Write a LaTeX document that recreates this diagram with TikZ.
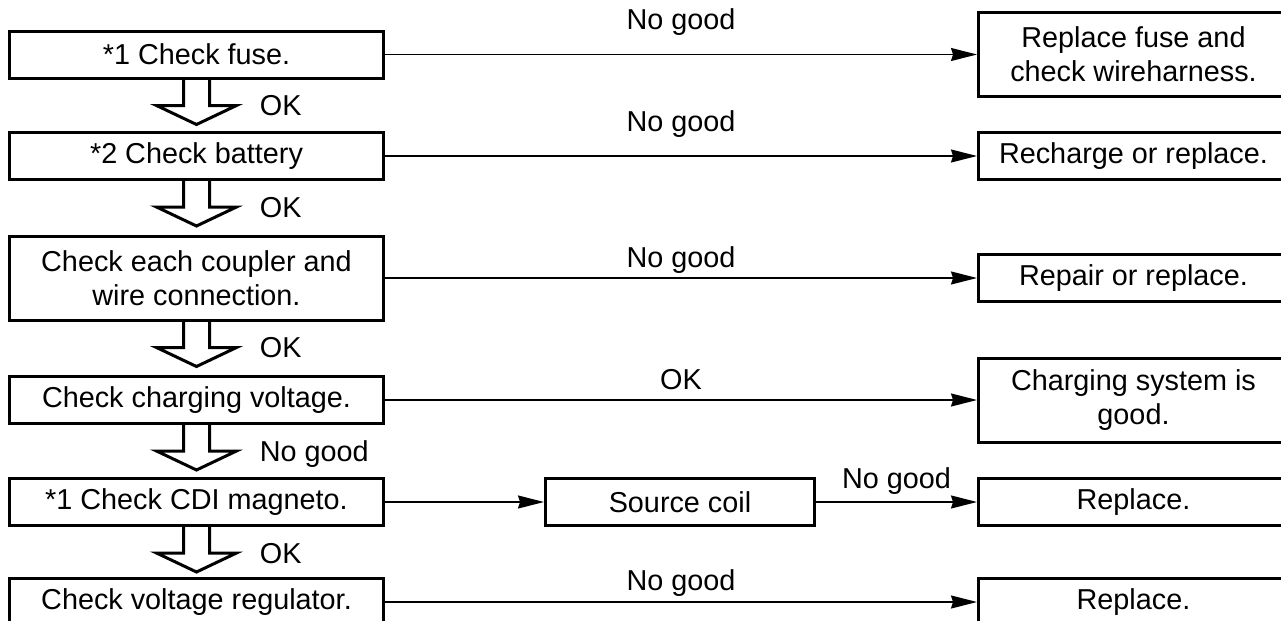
\documentclass[tikz,border=0pt]{standalone}
\usepackage{fontspec}
\setmainfont{Liberation Sans}
\usepackage{tikz}
\usetikzlibrary{arrows.meta,positioning,calc}

\begin{document}
\begin{tikzpicture}[
  x=0.5pt,y=-0.5pt,
  font=\fontsize{14.4}{17}\selectfont,
  box/.style={draw,line width=1.5pt,align=center,inner sep=0pt,minimum width=187pt,minimum height=23.5pt},
  tall/.style={minimum height=42pt},
  endbox/.style={box,minimum width=155pt},
  arr/.style={-{Stealth[length=13pt,width=6.5pt,inset=1pt]},line width=0.75pt},
  lbl/.style={midway,anchor=base,inner sep=0pt},
  pics/okdown/.style={code={
    \draw[line width=1.5pt] (-13,-1) -- (-13,26) -- (-40,26) -- (0,45) -- (40,26) -- (13,26) -- (13,-1);
    \node[anchor=base west,inner sep=0pt] (-lbl) at (63,36) {#1};
  }}
]
\useasboundingbox (0,0) rectangle (1281,621);
\node[box] (fuse) at (196.5,54.5) {*1 Check fuse.};
\node[box] (battery) at (196.5,156) {*2 Check battery};
\node[box,tall] (coupler) at (196.5,278) {Check each coupler and\\wire connection.};
\node[box] (volt) at (196.5,400) {Check charging voltage.};
\node[box] (cdi) at (196.5,502) {*1 Check CDI magneto.};
\node[box] (reg) at (196.5,602) {Check voltage regulator.};
\node[endbox,tall,right=296pt of fuse] (fusefix) {Replace fuse and\\check wireharness.};
\node[endbox,right=296pt of battery] (recharge) {Recharge or replace.};
\node[endbox,right=296pt of coupler] (repair) {Repair or replace.};
\node[endbox,tall,right=296pt of volt] (good) {Charging system is\\good.};
\node[box,minimum width=134.5pt,right=79.5pt of cdi] (coil) {Source coil};
\node[endbox,right=80.5pt of coil] (coilfix) {Replace.};
\node[endbox,right=296pt of reg] (regfix) {Replace.};
\draw[arr] (fuse) -- node[lbl,yshift=12.5pt] (ng1) {No good} (fusefix);
\draw[arr] (battery) -- node[lbl,yshift=12.5pt] (ng2) {No good} (recharge);
\draw[arr] (coupler) -- node[lbl,yshift=5.5pt] (ng3) {No good} (repair);
\draw[arr] (volt) -- node[lbl,yshift=5.5pt] (ok4) {OK} (good);
\draw[arr] (cdi) -- (coil);
\draw[arr] (coil) -- node[lbl,yshift=7pt] (ng5) {No good} (coilfix);
\draw[arr] (reg) -- node[lbl,yshift=6pt] (ng6) {No good} (regfix);
\pic (d1) at (fuse.south) {okdown=OK};
\pic (d2) at (battery.south) {okdown=OK};
\pic (d3) at (coupler.south) {okdown=OK};
\pic (d4) at (volt.south) {okdown=No good};
\pic (d5) at (cdi.south) {okdown=OK};
\end{tikzpicture}
\end{document}
